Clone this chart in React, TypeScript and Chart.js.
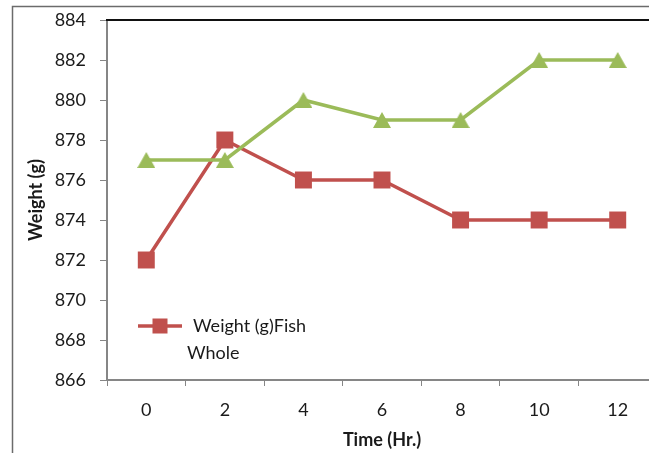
import React, { useEffect, useRef } from "react";
import { Chart, registerables } from "chart.js";

Chart.register(...registerables);

// ---- data ----
const timeLabels = ["0", "2", "4", "6", "8", "10", "12"];
const wholeFishWeight = [872, 878, 876, 876, 874, 874, 874];
const secondWeight = [877, 877, 880, 879, 879, 882, 882];
const yTickMin = 866;
const yTickMax = 884;
const yTickStep = 2;
const wholeLegendLines = ["Weight (g)Fish", "Whole"];
const xTitle = "Time (Hr.)";
const yTitle = "Weight (g)";

const RED = "#C0504D";
const GREEN = "#9BBB59";
const AXIS = "#868686";
const TEXT = "#1a1a1a";
const FONT = "Lato";

function makeTriangle(color: string) {
  const c = document.createElement("canvas");
  c.width = 18;
  c.height = 16;
  const ctx = c.getContext("2d")!;
  ctx.fillStyle = color;
  ctx.beginPath();
  ctx.moveTo(9, 0);
  ctx.lineTo(18, 16);
  ctx.lineTo(0, 16);
  ctx.closePath();
  ctx.fill();
  return c;
}

const decorPlugin = {
  id: "decor",
  beforeDraw(chart: any) {
    const { ctx } = chart;
    ctx.save();
    ctx.fillStyle = "#ffffff";
    ctx.fillRect(0, 0, chart.width, chart.height);
    ctx.strokeStyle = "#6b6b6b";
    ctx.lineWidth = 1.5;
    ctx.beginPath();
    ctx.moveTo(12.5, chart.height + 5);
    ctx.lineTo(12.5, 6.5);
    ctx.lineTo(chart.width + 5, 6.5);
    ctx.stroke();
    ctx.restore();
  },
  beforeDatasetsDraw(chart: any) {
    const { ctx, chartArea } = chart;
    ctx.save();
    ctx.strokeStyle = "#111111";
    ctx.lineWidth = 2;
    ctx.beginPath();
    ctx.moveTo(chartArea.left - 1, chartArea.top);
    ctx.lineTo(chart.width + 5, chartArea.top);
    ctx.stroke();
    ctx.restore();
  },
  afterDraw(chart: any) {
    const { ctx, chartArea } = chart;
    const x0 = chartArea.left + 31;
    const y0 = chartArea.bottom - 54;
    ctx.save();
    ctx.strokeStyle = RED;
    ctx.lineWidth = 3.5;
    ctx.beginPath();
    ctx.moveTo(x0, y0);
    ctx.lineTo(x0 + 44, y0);
    ctx.stroke();
    ctx.fillStyle = RED;
    ctx.fillRect(x0 + 22 - 7.5, y0 - 7.5, 15, 15);
    ctx.fillStyle = TEXT;
    ctx.font = `18px ${FONT}`;
    ctx.textBaseline = "middle";
    ctx.textAlign = "left";
    ctx.fillText(wholeLegendLines[0], x0 + 55, y0);
    ctx.fillText(wholeLegendLines[1], x0 + 49, y0 + 27);
    ctx.restore();
  },
};

export default function App() {
  const ref = useRef<HTMLCanvasElement | null>(null);

  useEffect(() => {
    if (!ref.current) return;
    const chart = new Chart(ref.current, {
      type: "line",
      data: {
        labels: timeLabels,
        datasets: [
          {
            label: wholeLegendLines.join(" "),
            data: wholeFishWeight,
            borderColor: RED,
            backgroundColor: RED,
            borderWidth: 3.5,
            pointStyle: "rect",
            pointRadius: 12,
            pointHoverRadius: 12,
            pointBorderWidth: 0,
            pointBackgroundColor: RED,
            tension: 0,
            order: 1,
          },
          {
            label: "Weight (g)",
            data: secondWeight,
            borderColor: GREEN,
            backgroundColor: GREEN,
            borderWidth: 3.5,
            pointStyle: makeTriangle(GREEN),
            pointRadius: 9,
            pointBorderWidth: 0,
            tension: 0,
            order: 0,
          },
        ],
      },
      options: {
        animation: false,
        responsive: false,
        maintainAspectRatio: false,
        layout: { padding: { top: 20, right: 3, bottom: 0, left: 0 } },
        plugins: {
          legend: { display: false },
          tooltip: { enabled: false },
          title: { display: false },
        },
        scales: {
          x: {
            type: "category",
            offset: true,
            grid: {
              offset: true,
              drawOnChartArea: false,
              drawTicks: true,
              tickLength: 6,
              color: AXIS,
              lineWidth: 1,
            },
            border: { display: true, color: AXIS, width: 2 },
            ticks: {
              font: { family: FONT, size: 18 },
              color: TEXT,
              padding: 13,
              maxRotation: 0,
              autoSkip: false,
            },
            title: {
              display: true,
              text: xTitle,
              font: { family: FONT, size: 18, weight: "bold" },
              color: TEXT,
              padding: { top: 0, bottom: 2 },
            },
            afterFit: (s: any) => {
              s.height = 73;
              s.paddingLeft = 0;
              s.paddingRight = 0;
            },
          },
          y: {
            min: yTickMin,
            max: yTickMax,
            grid: {
              drawOnChartArea: false,
              drawTicks: true,
              tickLength: 7,
              color: AXIS,
              lineWidth: 1,
            },
            border: { display: true, color: AXIS, width: 2 },
            ticks: {
              stepSize: yTickStep,
              font: { family: FONT, size: 18 },
              color: TEXT,
              padding: 14,
            },
            title: {
              display: true,
              text: yTitle,
              font: { family: FONT, size: 18, weight: "bold" },
              color: TEXT,
              padding: { top: 25, bottom: 0 },
            },
            afterFit: (s: any) => {
              s.width = 107;
              s.paddingTop = 0;
              s.paddingBottom = 0;
            },
          },
        },
      },
      plugins: [decorPlugin],
    });
    return () => chart.destroy();
  }, []);

  return (
    <div
      style={{
        position: "fixed",
        left: 0,
        top: 0,
        width: 649,
        height: 453,
        overflow: "hidden",
        background: "#fff",
      }}
    >
      <div style={{ position: "absolute", left: 0, top: 0, width: 669, height: 453 }}>
        <canvas ref={ref} width={669} height={453} style={{ width: 669, height: 453, display: "block" }} />
      </div>
    </div>
  );
}
